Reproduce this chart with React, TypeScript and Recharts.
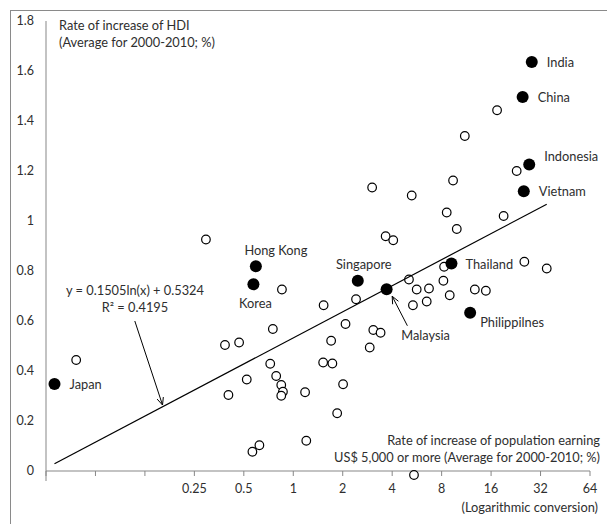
import { ScatterChart, Scatter, XAxis, YAxis, ReferenceLine } from "recharts";

const FONT = "Lato, 'Open Sans', sans-serif";
const TEXT = "#2e2e2e";
const AXIS = "#878787";
const FS = 12.8;

// other economies (open markers)
const otherX = [
  0.0477, 0.294, 0.384, 0.468, 0.403, 0.521, 0.564, 0.622, 0.724, 0.751, 0.787,
  0.845, 0.865, 0.845, 0.853, 1.18, 1.2, 1.52, 1.53, 1.7, 1.73, 1.85, 2.01,
  2.08, 2.41, 2.92, 3.02, 3.07, 3.4, 3.65, 4.06, 5.06, 5.26, 5.35, 5.43, 5.64,
  6.49, 6.7, 8.2, 8.28, 8.59, 8.96, 9.39, 9.89, 11.07, 12.74, 14.87, 17.4,
  19.07, 22.9, 25.5, 34.9,
];
const otherY = [
  0.444, 0.926, 0.504, 0.514, 0.304, 0.366, 0.077, 0.103, 0.429, 0.568, 0.38,
  0.344, 0.317, 0.301, 0.726, 0.315, 0.121, 0.434, 0.663, 0.521, 0.43, 0.231,
  0.347, 0.588, 0.687, 0.494, 1.134, 0.564, 0.553, 0.939, 0.923, 0.766, 1.102,
  0.663, -0.016, 0.726, 0.678, 0.73, 0.761, 0.817, 1.034, 0.703, 1.162, 0.968,
  1.34, 0.726, 0.721, 1.443, 1.02, 1.2, 0.837, 0.81,
];

// highlighted Asian economies (filled markers)
const countryNames = [
  "India", "China", "Indonesia", "Vietnam", "Thailand", "Philippilnes",
  "Malaysia", "Singapore", "Korea", "Hong Kong", "Japan",
];
const countryX = [28.3, 24.9, 27.3, 25.3, 9.18, 11.93, 3.7, 2.47, 0.572, 0.592, 0.0352];
const countryY = [1.636, 1.496, 1.226, 1.119, 0.83, 0.633, 0.727, 0.761, 0.747, 0.819, 0.348];

// log trendline end points, y = 0.1505ln(x) + 0.5324
const trendX = [0.0352, 34.9];
const trendY = [0.029, 1.067];

const xTicks = [0.03125, 0.0625, 0.125, 0.25, 0.5, 1, 2, 4, 8, 16, 32, 64];
const xTickLabels = ["", "", "", "0.25", "0.5", "1", "2", "4", "8", "16", "32", "64"];
const yTicks = [0, 0.2, 0.4, 0.6, 0.8, 1, 1.2, 1.4, 1.6, 1.8];

const others = otherX.map((x, i) => ({ x, y: otherY[i] }));
const countries = countryNames.map((name, i) => ({ name, x: countryX[i], y: countryY[i] }));
const trend = trendX.map((x, i) => ({ x, y: trendY[i] }));

const noteArrow = [
  { x: 0.1085, y: 0.6 },
  { x: 0.16, y: 0.264 },
];
const malaysiaArrow = [
  { x: 4.95, y: 0.581 },
  { x: 4.0, y: 0.699 },
];

const LABEL_POS: Record<string, { dx: number; dy: number; anchor: "start" | "middle" }> = {
  India: { dx: 15, dy: 0, anchor: "start" },
  China: { dx: 15, dy: 0, anchor: "start" },
  Indonesia: { dx: 15, dy: -9, anchor: "start" },
  Vietnam: { dx: 15, dy: 0, anchor: "start" },
  Thailand: { dx: 14, dy: 0, anchor: "start" },
  Philippilnes: { dx: 10, dy: 9, anchor: "start" },
  Malaysia: { dx: 39, dy: 46, anchor: "middle" },
  Singapore: { dx: 6, dy: -17, anchor: "middle" },
  Korea: { dx: 2, dy: 19, anchor: "middle" },
  "Hong Kong": { dx: 20, dy: -16, anchor: "middle" },
  Japan: { dx: 15, dy: 0, anchor: "start" },
};

const W = 607;
const H = 524;
const TOP = 21;
const PLOT_BOTTOM = 481;
const Y_MIN = -0.04;
const Y_MAX = 1.8;
const ZERO_Y = TOP + ((PLOT_BOTTOM - TOP) * Y_MAX) / (Y_MAX - Y_MIN);

function XTick({ x, payload }: any) {
  const i = xTicks.indexOf(payload.value);
  return (
    <g>
      <line x1={x} x2={x} y1={ZERO_Y} y2={ZERO_Y + 5} stroke={AXIS} />
      <text x={x} y={ZERO_Y + 22} textAnchor="middle" fill={TEXT} fontSize={12.5} fontFamily={FONT}>
        {xTickLabels[i]}
      </text>
    </g>
  );
}

function OpenDot({ cx, cy }: any) {
  return <circle cx={cx} cy={cy} r={4.3} fill="#fff" stroke="#000" strokeWidth={1.2} />;
}

function CountryDot({ cx, cy, payload }: any) {
  const p = LABEL_POS[payload.name];
  return (
    <g>
      <circle cx={cx} cy={cy} r={6} fill="#000" />
      <text
        x={cx + p.dx}
        y={cy + p.dy}
        textAnchor={p.anchor}
        dominantBaseline="central"
        fill={TEXT}
        fontSize={FS}
        fontFamily={FONT}
      >
        {payload.name}
      </text>
    </g>
  );
}

function Arrow({ x1, y1, x2, y2 }: any) {
  const ang = Math.atan2(y2 - y1, x2 - x1);
  const L = 8;
  const s = 0.42;
  const a1 = ang + Math.PI - s;
  const a2 = ang + Math.PI + s;
  return (
    <g>
      <line x1={x1} y1={y1} x2={x2} y2={y2} stroke="#000" strokeWidth={1} />
      <polyline
        points={`${x2 + L * Math.cos(a1)},${y2 + L * Math.sin(a1)} ${x2},${y2} ${x2 + L * Math.cos(a2)},${y2 + L * Math.sin(a2)}`}
        fill="none"
        stroke="#000"
        strokeWidth={1}
      />
    </g>
  );
}

const textStyle: React.CSSProperties = {
  position: "absolute",
  fontFamily: FONT,
  fontSize: FS,
  color: TEXT,
  lineHeight: "17px",
  whiteSpace: "nowrap",
};

export default function App() {
  return (
    <div
      style={{
        position: "fixed",
        left: 0,
        top: 0,
        width: W,
        height: H,
        overflow: "hidden",
        background: "#fff",
      }}
    >
      <div
        style={{
          position: "absolute",
          left: 10,
          top: 10,
          width: 640,
          height: 560,
          borderLeft: "1px solid #8a8a8a",
          borderTop: "1px solid #8a8a8a",
        }}
      />
      <ScatterChart
        width={W}
        height={H}
        margin={{ top: TOP, right: 17, left: 10, bottom: 13 }}
        style={{ position: "absolute", left: 0, top: 0 }}
      >
        <XAxis
          type="number"
          dataKey="x"
          scale="log"
          domain={[0.03125, 64]}
          ticks={xTicks}
          axisLine={false}
          tickLine={false}
          height={30}
          tick={<XTick />}
          interval={0}
        />
        <YAxis
          type="number"
          dataKey="y"
          domain={[Y_MIN, Y_MAX]}
          ticks={yTicks}
          width={36}
          stroke={AXIS}
          tickLine={false}
          tickMargin={6}
          tick={{ fill: TEXT, fontSize: 12.5, fontFamily: FONT }}
          interval={0}
        />
        <ReferenceLine y={0} stroke={AXIS} strokeWidth={1} />
        <Scatter data={others} shape={<OpenDot />} isAnimationActive={false} />
        <Scatter data={countries} shape={<CountryDot />} isAnimationActive={false} />
        <Scatter
          data={trend}
          line={{ stroke: "#000", strokeWidth: 1.2 }}
          shape={() => <g />}
          isAnimationActive={false}
        />
        <ReferenceLine segment={noteArrow} shape={<Arrow />} />
        <ReferenceLine segment={malaysiaArrow} shape={<Arrow />} />
      </ScatterChart>

      <div style={{ ...textStyle, left: 59, top: 17 }}>
        Rate of increase of HDI
        <br />
        (Average for 2000-2010; %)
      </div>
      <div style={{ ...textStyle, left: 35, width: 200, top: 282, textAlign: "center" }}>
        y = 0.1505ln(x) + 0.5324
        <br />
        R² = 0.4195
      </div>
      <div style={{ ...textStyle, right: 7, top: 432, textAlign: "right" }}>
        Rate of increase of population earning
        <br />
        US$ 5,000 or more (Average for 2000-2010; %)
      </div>
      <div style={{ ...textStyle, right: 9, top: 499, textAlign: "right" }}>
        (Logarithmic conversion)
      </div>
    </div>
  );
}
